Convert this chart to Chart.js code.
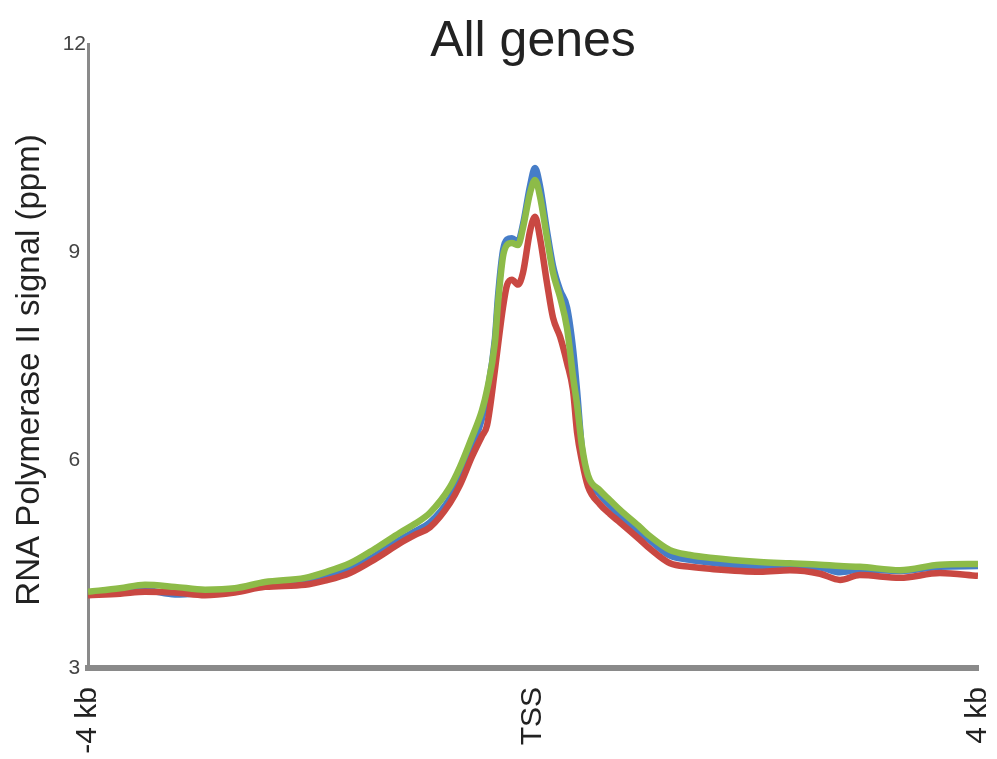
<!DOCTYPE html>
<html>
<head>
<meta charset="utf-8">
<script src="https://cdn.jsdelivr.net/npm/chart.js@4/dist/chart.umd.min.js"></script>
<style>
html,body{margin:0;padding:0;background:#fff;}
#wrap{width:997px;height:759px;position:relative;}
</style>
</head>
<body>
<div id="wrap"><canvas id="c"></canvas></div>
<script>
const chartTitle = "All genes";
const yAxisTitle = "RNA Polymerase II signal (ppm)";
const xTickValues = [-4000, 0, 4000];
const xTickLabels = ["-4 kb", "TSS", "4 kb"];
const yTickValues = [3, 6, 9, 12];

const positions = [-4000,-3712,-3488,-3218,-2948,-2679,-2409,-2049,-1870,-1645,-1420,-1196,-1061,-926,-746,-656,-548,-458,-413,-342,-315,-270,-234,-189,-135,-90,-27,18,63,126,180,243,306,360,396,441,494,602,692,782,962,1052,1232,1411,1591,2040,2310,2580,2760,2939,3299,3658,4000];

const greenSignal = [4.10,4.15,4.20,4.17,4.13,4.15,4.24,4.30,4.38,4.51,4.72,4.95,5.08,5.24,5.61,5.90,6.33,6.72,7.01,7.70,8.25,8.93,9.10,9.13,9.10,9.35,9.85,10.04,9.80,9.20,8.70,8.35,7.90,7.20,6.80,6.19,5.78,5.56,5.42,5.28,5.03,4.90,4.70,4.63,4.59,4.53,4.51,4.49,4.47,4.46,4.41,4.49,4.50];

const blueSignal = [4.08,4.10,4.12,4.06,4.09,4.14,4.22,4.26,4.32,4.42,4.62,4.85,4.97,5.10,5.45,5.75,6.20,6.60,6.95,7.75,8.35,9.02,9.18,9.20,9.15,9.40,9.95,10.21,9.95,9.30,8.80,8.45,8.20,7.60,7.00,6.15,5.74,5.50,5.34,5.20,4.95,4.84,4.62,4.56,4.52,4.45,4.46,4.45,4.38,4.42,4.40,4.46,4.47];

const redSignal = [4.05,4.07,4.10,4.09,4.05,4.09,4.17,4.20,4.26,4.37,4.57,4.80,4.92,5.03,5.38,5.64,6.05,6.35,6.50,7.30,7.65,8.20,8.52,8.60,8.53,8.70,9.30,9.51,9.20,8.55,8.05,7.78,7.40,7.00,6.40,5.98,5.62,5.36,5.22,5.10,4.85,4.72,4.51,4.46,4.43,4.39,4.41,4.36,4.27,4.34,4.30,4.37,4.33];

function toPoints(vals){ return positions.map((p,i)=>({x:p, y:vals[i]})); }

const textPlugin = {
  id: 'fixedTexts',
  afterDraw(chart){
    const ctx = chart.ctx, a = chart.chartArea;
    ctx.save();
    ctx.fillStyle = '#222';
    ctx.font = '50px "Liberation Sans", Arial, sans-serif';
    ctx.textAlign = 'center';
    ctx.textBaseline = 'alphabetic';
    ctx.fillText(chartTitle, (a.left + a.right) / 2, 56);
    ctx.restore();

    ctx.save();
    ctx.fillStyle = '#222';
    ctx.font = '33px "Liberation Sans", Arial, sans-serif';
    ctx.textAlign = 'center';
    ctx.textBaseline = 'middle';
    ctx.translate(30, 370);
    ctx.rotate(-Math.PI / 2);
    ctx.fillText(yAxisTitle, 0, 0);
    ctx.restore();
  }
};

const lineCommon = {borderWidth: 6.5, pointRadius: 0, fill: false, cubicInterpolationMode: 'monotone'};

new Chart(document.getElementById('c'), {
  type: 'line',
  data: {
    datasets: [
      Object.assign({label: 'Green', data: toPoints(greenSignal), borderColor: 'rgb(141,187,72)', order: 0}, lineCommon),
      Object.assign({label: 'Red', data: toPoints(redSignal), borderColor: 'rgb(201,72,66)', order: 1}, lineCommon),
      Object.assign({label: 'Blue', data: toPoints(blueSignal), borderColor: 'rgb(70,125,200)', order: 2}, lineCommon)
    ]
  },
  options: {
    responsive: true,
    maintainAspectRatio: false,
    animation: false,
    layout: {padding: {left: 0, top: 44, right: 19, bottom: 0}},
    plugins: {legend: {display: false}, tooltip: {enabled: false}, title: {display: false}},
    scales: {
      x: {
        type: 'linear',
        min: -4000, max: 4000,
        grid: {display: false, drawTicks: false},
        border: {display: true, color: '#8a8a8a', width: 6},
        afterBuildTicks(scale){ scale.ticks = xTickValues.map(v => ({value: v})); },
        afterFit(scale){ scale.height = 91; scale.paddingLeft = 0; scale.paddingRight = 0; },
        ticks: {
          autoSkip: false, maxRotation: 90, minRotation: 90, padding: 19,
          color: '#222',
          font: {family: '"Liberation Sans", Arial, sans-serif', size: 30},
          callback: (v) => { const i = xTickValues.indexOf(v); return i >= 0 ? xTickLabels[i] : ''; }
        }
      },
      y: {
        type: 'linear',
        min: 3, max: 12,
        grid: {display: false, drawTicks: false},
        border: {display: true, color: '#8a8a8a', width: 3},
        afterBuildTicks(scale){ scale.ticks = yTickValues.map(v => ({value: v})); },
        afterFit(scale){ scale.width = 88; },
        ticks: {
          padding: 2, crossAlign: 'center', color: '#444',
          font: {family: '"Liberation Sans", Arial, sans-serif', size: 21}
        },
        title: {display: false, text: yAxisTitle}
      }
    }
  },
  plugins: [textPlugin]
});
</script>
</body>
</html>
